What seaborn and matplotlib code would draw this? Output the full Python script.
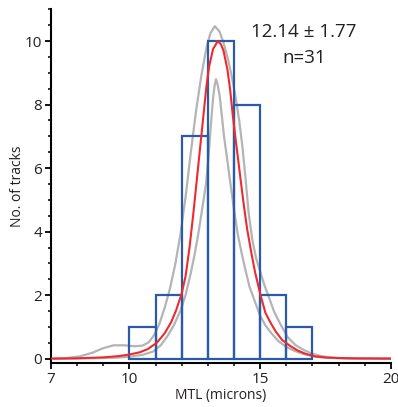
import matplotlib
matplotlib.use("Agg")
import matplotlib.pyplot as plt
import pandas as pd
import seaborn as sns
from matplotlib.ticker import FixedLocator, MultipleLocator

# Measured track lengths, binned at 1 micron
bin_edges = [10, 11, 12, 13, 14, 15, 16, 17]
track_counts = [1, 2, 7, 10, 8, 2, 1]

# Predicted length distribution (best-fit model)
model_x = [7.0, 8.0, 9.0, 9.6, 10.0, 10.4, 10.7, 11.05, 11.35, 11.6, 11.8,
           12.0, 12.15, 12.3, 12.45, 12.6, 12.75, 12.85, 12.95, 13.05, 13.2,
           13.38, 13.5, 13.6, 13.75, 13.85, 13.95, 14.05, 14.2, 14.35, 14.5,
           14.65, 14.8, 15.0, 15.2, 15.4, 15.6, 15.85, 16.15, 16.45, 16.75,
           17.1, 17.6, 18.5, 20.0]
model_y = [0.0, 0.01, 0.04, 0.08, 0.13, 0.2, 0.3, 0.5, 0.8, 1.15, 1.55,
           2.05, 2.6, 3.5, 4.6, 5.8, 7.0, 7.8, 8.6, 9.2, 9.75,
           10.0, 9.9, 9.7, 9.1, 8.5, 7.7, 7.0, 6.0, 5.0, 4.1,
           3.4, 2.75, 2.05, 1.45, 1.13, 0.85, 0.58, 0.4, 0.25, 0.15,
           0.07, 0.03, 0.01, 0.0]

# Envelope of acceptable fits: upper bound
upper_x = [7.1, 7.6, 8.1, 8.6, 9.0, 9.4, 9.8, 10.2, 10.5, 10.75, 10.95, 11.15,
           11.35, 11.55, 11.75, 11.95, 12.15, 12.35, 12.55, 12.75, 12.95, 13.1,
           13.27, 13.45, 13.6, 13.75, 13.9, 14.05, 14.2, 14.32, 14.44, 14.56,
           14.7, 14.85, 15.0, 15.15, 15.35, 15.55, 15.8, 16.05, 16.35, 16.65,
           17.0, 17.4, 17.9, 18.5, 20.0]
upper_y = [0.0, 0.02, 0.07, 0.19, 0.33, 0.42, 0.42, 0.39, 0.41, 0.52, 0.75, 1.1,
           1.6, 2.2, 2.95, 3.9, 5.1, 6.5, 7.8, 8.9, 9.8, 10.25,
           10.47, 10.3, 9.95, 9.5, 8.95, 8.3, 7.5, 6.7, 5.7, 4.6,
           3.75, 3.15, 2.75, 2.35, 1.9, 1.45, 1.05, 0.68, 0.43, 0.28,
           0.15, 0.07, 0.02, 0.0, 0.0]

# Envelope of acceptable fits: lower bound
lower_x = [7.1, 8.5, 9.5, 10.0, 10.5, 10.9, 11.2, 11.45, 11.7, 11.95, 12.15,
           12.35, 12.5, 12.65, 12.8, 12.93, 13.03, 13.12, 13.2, 13.26, 13.31,
           13.37, 13.45, 13.53, 13.62, 13.72, 13.85, 14.0, 14.15, 14.3, 14.45,
           14.6, 14.8, 15.0, 15.2, 15.45, 15.7, 16.0, 16.3, 16.6, 17.0, 17.5,
           18.2, 20.0]
lower_y = [0.0, 0.01, 0.03, 0.06, 0.12, 0.22, 0.42, 0.7, 1.05, 1.5, 2.0,
           2.7, 3.3, 4.0, 4.8, 5.5, 6.4, 7.4, 8.2, 8.6, 8.8,
           8.65, 8.3, 7.7, 7.0, 6.4, 5.6, 4.7, 3.9, 3.3, 2.75,
           2.25, 1.8, 1.35, 1.05, 0.78, 0.55, 0.37, 0.25, 0.16, 0.08, 0.03,
           0.01, 0.0]

stats_label = "12.14 ± 1.77"
n_label = "n=31"
x_ticks = [7, 10, 15, 20]
y_ticks = [0, 2, 4, 6, 8, 10]

sns.set_theme(style="ticks")
plt.rcParams["font.family"] = ["Open Sans", "DejaVu Sans"]

BLUE = "#2b5ba8"
RED = "#ee2a2f"
GREY = "#b4b4b4"
INK = "#231f20"

fig = plt.figure(figsize=(3.98, 4.07), dpi=100)
ax = fig.add_axes([0.128, 0.109, 0.854, 0.868])

centers = [(a + b) / 2 for a, b in zip(bin_edges[:-1], bin_edges[1:])]
hist_df = pd.DataFrame({"length": centers, "count": track_counts})

for xs, ys in ((upper_x, upper_y), (lower_x, lower_y)):
    sns.lineplot(x=xs, y=ys, ax=ax, color=GREY, linewidth=1.6,
                 sort=False, estimator=None, zorder=2)

sns.histplot(data=hist_df, x="length", weights="count", bins=bin_edges,
             fill=False, color=BLUE, linewidth=1.6, ax=ax, zorder=3)

sns.lineplot(x=model_x, y=model_y, ax=ax, color=RED, linewidth=1.5,
             sort=False, estimator=None, zorder=4)

ax.set_xlim(7, 20)
ax.set_ylim(-0.126, 11)
ax.xaxis.set_major_locator(FixedLocator(x_ticks))
ax.xaxis.set_minor_locator(MultipleLocator(1))
ax.yaxis.set_major_locator(FixedLocator(y_ticks))
ax.yaxis.set_minor_locator(MultipleLocator(0.5))

for side in ("top", "right"):
    ax.spines[side].set_visible(False)
for side in ("left", "bottom"):
    ax.spines[side].set_linewidth(1.5)
    ax.spines[side].set_color("black")

ax.tick_params(axis="both", which="major", direction="out", length=4,
               width=1.3, labelsize=11, pad=2.5, color="black",
               labelcolor=INK)
ax.tick_params(axis="both", which="minor", direction="out", length=2,
               width=1.1, color="black")

ax.set_xlabel("MTL (microns)", fontsize=10, color=INK, labelpad=1)
ax.set_ylabel("No. of tracks", fontsize=10, color=INK, labelpad=0)

ax.text(16.67, 10.28, stats_label, ha="center", va="center",
        fontsize=13.5, color=INK)
ax.text(16.67, 9.47, n_label, ha="center", va="center",
        fontsize=13.5, color=INK)

fig.savefig("out.png", dpi=100)
